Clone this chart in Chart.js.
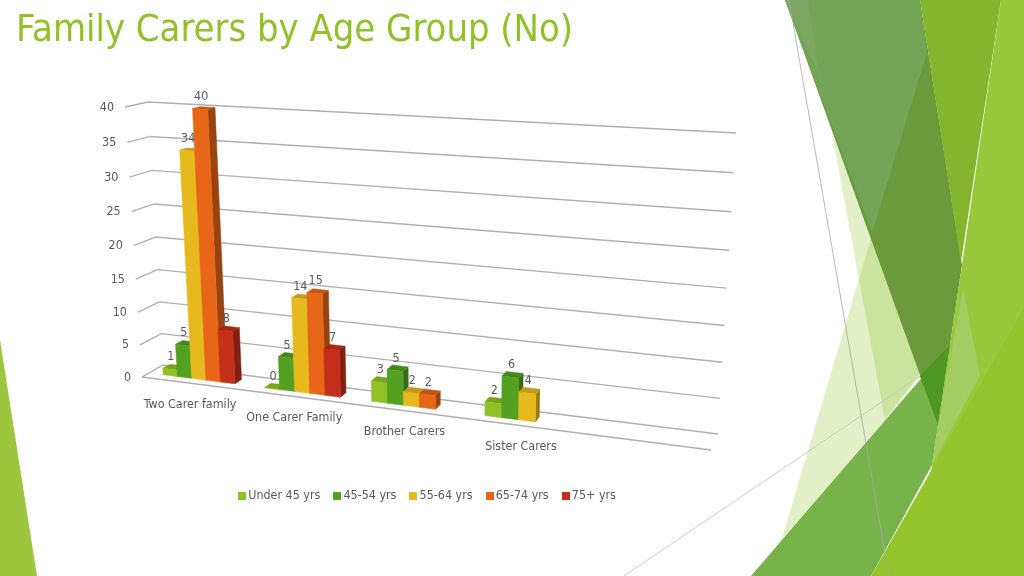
<!DOCTYPE html>
<html>
<head>
<meta charset="utf-8">
<title>Family Carers by Age Group (No)</title>
<script src="https://cdn.jsdelivr.net/npm/chart.js@4"></script>
<style>
    html, body { margin: 0; padding: 0; background: #fff; overflow: hidden; }
    #stage { position: relative; width: 1024px; height: 576px; }
    #stage svg, #stage canvas { position: absolute; left: 0; top: 0; }
</style>
</head>
<body>
<div id="stage">
    <svg width="1024" height="576" viewBox="0 0 1024 576">
        <polygon points="0,340 0,576 37,576" fill="#9dc63f"/>
        <polygon points="832,133 885,420 930,360" fill="#90c226" fill-opacity="0.26"/>
        <polygon points="872,235 780,545 930,365" fill="#90c226" fill-opacity="0.26"/>
        <polygon points="785,0 920,0 962,265 938,425" fill="#6a9a3c"/>
        <polygon points="785,0 920,0 927,53 872,233" fill="#74a455"/>
        <polygon points="785,0 808,0 820,77" fill="#7ba763"/>
        <polygon points="920,0 1001,0 961,262" fill="#83b52e"/>
        <polygon points="751,576 950,345 938,425 932,465 871,576" fill="#78b24b"/>
        <polygon points="920,376 950,345 938,425" fill="#4f9723"/>
        <polygon points="1001,0 1024,0 1024,576 915,576 932,465 962,265" fill="#97c93c"/>
        <polygon points="963,288 980,376 932,465 938,425" fill="#a2cd62"/>
        <polygon points="1024,308 1024,576 871,576" fill="#92c42c"/>
        <line x1="789" y1="0" x2="889" y2="576" stroke="#a8a8a8" stroke-opacity="0.8"/>
        <line x1="624" y1="576" x2="920" y2="376" stroke="#c4c4c4" stroke-opacity="0.8"/>
    </svg>
    <canvas id="carers" width="1024" height="576"></canvas>
</div>
<script>
// the source sheet has a fifth, empty row, which is why the floor runs on past Sister Carers
var categories = ['Two Carer family', 'One Carer Family', 'Brother Carers', 'Sister Carers', ''];
var seriesNames = ['Under 45 yrs', '45-54 yrs', '55-64 yrs', '65-74 yrs', '75+ yrs'];
var under45 = [1, 0, 3, 2, null];
var age45to54 = [5, 5, 5, 6, null];
var age55to64 = [34, 14, 2, 4, null];
var age65to74 = [40, 15, 2, null, null];
var age75plus = [8, 7, null, null, null];
var yTicks = [0, 5, 10, 15, 20, 25, 30, 35, 40];
var colors = ['#90C226', '#54A021', '#E6B91E', '#E76618', '#C42F1A'];

var FONT = '"DejaVu Sans Condensed", "DejaVu Sans", sans-serif';
var TEXT = '#595959';
var LABEL_SIZE = 12.4;

// corners of the back wall and of the front plane: [0,0], [1,0], [1,1], [0,1] in (category, value) space
var wall = quad([163, 365], [718, 434], [736, 133], [148, 102]);
var front = quad([142, 377], [711, 450], [727, 141], [125, 107]);
var BAR_FRONT = 0.66, BAR_BACK = 0.32;

function quad(p0, p1, p2, p3) {
    var sx = p0[0] - p1[0] + p2[0] - p3[0], sy = p0[1] - p1[1] + p2[1] - p3[1];
    var dx1 = p1[0] - p2[0], dx2 = p3[0] - p2[0], dy1 = p1[1] - p2[1], dy2 = p3[1] - p2[1];
    var den = dx1 * dy2 - dx2 * dy1;
    var g = (sx * dy2 - dx2 * sy) / den, h = (dx1 * sy - sx * dy1) / den;
    var a = p1[0] - p0[0] + g * p1[0], b = p3[0] - p0[0] + h * p3[0];
    var d = p1[1] - p0[1] + g * p1[1], e = p3[1] - p0[1] + h * p3[1];
    return function(s, t) {
        var w = g * s + h * t + 1;
        return [(a * s + b * t + p0[0]) / w, (d * s + e * t + p0[1]) / w];
    };
}

// canvas pixels from the chart's own scales -> perspective position (depth 0 = wall, 1 = front)
function project(chart, px, py, depth) {
    var area = chart.chartArea;
    var s = (px - area.left) / area.width, t = (area.bottom - py) / area.height;
    var a = wall(s, t), b = front(s, t);
    return [a[0] + (b[0] - a[0]) * depth, a[1] + (b[1] - a[1]) * depth];
}

function shade(hex, k) {
    var n = parseInt(hex.slice(1), 16);
    return 'rgb(' + [n >> 16, (n >> 8) & 255, n & 255].map(function(c) { return Math.round(c * k); }).join(',') + ')';
}

function face(ctx, pts, fill) {
    ctx.beginPath();
    pts.forEach(function(p, i) { i ? ctx.lineTo(p[0], p[1]) : ctx.moveTo(p[0], p[1]); });
    ctx.closePath();
    ctx.fillStyle = fill;
    ctx.fill();
    ctx.strokeStyle = fill;
    ctx.lineWidth = 0.5;
    ctx.stroke();
}

var perspective = {
    id: 'perspective',
    beforeDatasetsDraw: function(chart) {
        var ctx = chart.ctx, area = chart.chartArea, y = chart.scales.y;
        ctx.save();
        ctx.strokeStyle = '#b0b0b0';
        ctx.lineWidth = 1.4;
        yTicks.forEach(function(v) {
            var py = y.getPixelForValue(v);
            var a = project(chart, area.left, py, 1), b = project(chart, area.left, py, 0), c = project(chart, area.right, py, 0);
            ctx.beginPath();
            ctx.moveTo(a[0], a[1]);
            ctx.lineTo(b[0], b[1]);
            ctx.lineTo(c[0], c[1]);
            ctx.stroke();
        });
        var f0 = project(chart, area.left, area.bottom, 1), f1 = project(chart, area.right, area.bottom, 1);
        ctx.beginPath();
        ctx.moveTo(f0[0], f0[1]);
        ctx.lineTo(f1[0], f1[1]);
        ctx.stroke();

        ctx.fillStyle = TEXT;
        ctx.font = LABEL_SIZE + 'px ' + FONT;
        ctx.textAlign = 'right';
        ctx.textBaseline = 'middle';
        yTicks.forEach(function(v) {
            var p = project(chart, area.left, y.getPixelForValue(v), 1);
            ctx.fillText(String(v), p[0] - 11, p[1] + 0.5);
        });
        ctx.textAlign = 'center';
        categories.forEach(function(name, i) {
            var p = project(chart, chart.scales.x.getPixelForValue(i), area.bottom, 1);
            ctx.fillText(name, p[0] - 2, p[1] + 21);
        });
        ctx.restore();
    },
    // flat bars are skipped here, the projected ones are painted left to right below
    beforeDatasetDraw: function() {
        return false;
    },
    afterDatasetsDraw: function(chart) {
        var ctx = chart.ctx;
        ctx.save();
        chart.data.datasets.forEach(function(ds, d) {
            var color = colors[d];
            chart.getDatasetMeta(d).data.forEach(function(el, i) {
                if (ds.data[i] === null) return;
                var l = el.x - el.width / 2, r = el.x + el.width / 2;
                var fl = project(chart, l, el.base, BAR_FRONT), fr = project(chart, r, el.base, BAR_FRONT);
                var tl = project(chart, l, el.y, BAR_FRONT), tr = project(chart, r, el.y, BAR_FRONT);
                var bl = project(chart, l, el.y, BAR_BACK), br = project(chart, r, el.y, BAR_BACK);
                var gr = project(chart, r, el.base, BAR_BACK);
                face(ctx, [fr, gr, br, tr], shade(color, 0.66));
                face(ctx, [tl, tr, br, bl], shade(color, 0.84));
                face(ctx, [fl, fr, tr, tl], color);
            });
        });

        ctx.fillStyle = TEXT;
        ctx.font = LABEL_SIZE + 'px ' + FONT;
        ctx.textAlign = 'center';
        ctx.textBaseline = 'middle';
        chart.data.datasets.forEach(function(ds, d) {
            chart.getDatasetMeta(d).data.forEach(function(el, i) {
                if (ds.data[i] === null) return;
                var p = project(chart, el.x, el.y, BAR_FRONT);
                ctx.fillText(String(ds.data[i]), p[0] + 1, p[1] - 12);
            });
        });
        ctx.restore();
    }
};

function swatch(color) {
    var c = document.createElement('canvas');
    c.width = c.height = 8;
    var g = c.getContext('2d');
    g.fillStyle = color;
    g.fillRect(0, 0, 8, 8);
    return c;
}

var carersChart = new Chart(document.getElementById('carers'), {
    type: 'bar',
    data: {
        labels: categories,
        datasets: [
            { label: seriesNames[0], data: under45, backgroundColor: colors[0] },
            { label: seriesNames[1], data: age45to54, backgroundColor: colors[1] },
            { label: seriesNames[2], data: age55to64, backgroundColor: colors[2] },
            { label: seriesNames[3], data: age65to74, backgroundColor: colors[3] },
            { label: seriesNames[4], data: age75plus, backgroundColor: colors[4] }
        ]
    },
    plugins: [perspective],
    options: {
        responsive: false,
        animation: false,
        categoryPercentage: 5 / 7,
        barPercentage: 1,
        layout: { padding: { left: 16, right: 182, top: 0, bottom: 64 } },
        scales: {
            x: { display: false },
            y: {
                display: false,
                min: 0,
                max: 40,
                afterBuildTicks: function(scale) {
                    scale.ticks = yTicks.map(function(v) { return { value: v }; });
                }
            }
        },
        plugins: {
            tooltip: { enabled: false },
            title: {
                display: true,
                text: 'Family Carers by Age Group (No)',
                align: 'start',
                color: '#90C226',
                font: { family: FONT, size: 37.8, weight: 'normal' },
                padding: { top: 8, bottom: 10 }
            },
            legend: {
                position: 'bottom',
                labels: {
                    color: TEXT,
                    font: { family: FONT, size: LABEL_SIZE },
                    usePointStyle: true,
                    boxWidth: 0.01,
                    padding: 17,
                    generateLabels: function() {
                        return seriesNames.map(function(name, i) {
                            return { text: name, pointStyle: swatch(colors[i]), datasetIndex: i, fontColor: TEXT };
                        });
                    }
                }
            }
        }
    }
});
</script>
</body>
</html>
